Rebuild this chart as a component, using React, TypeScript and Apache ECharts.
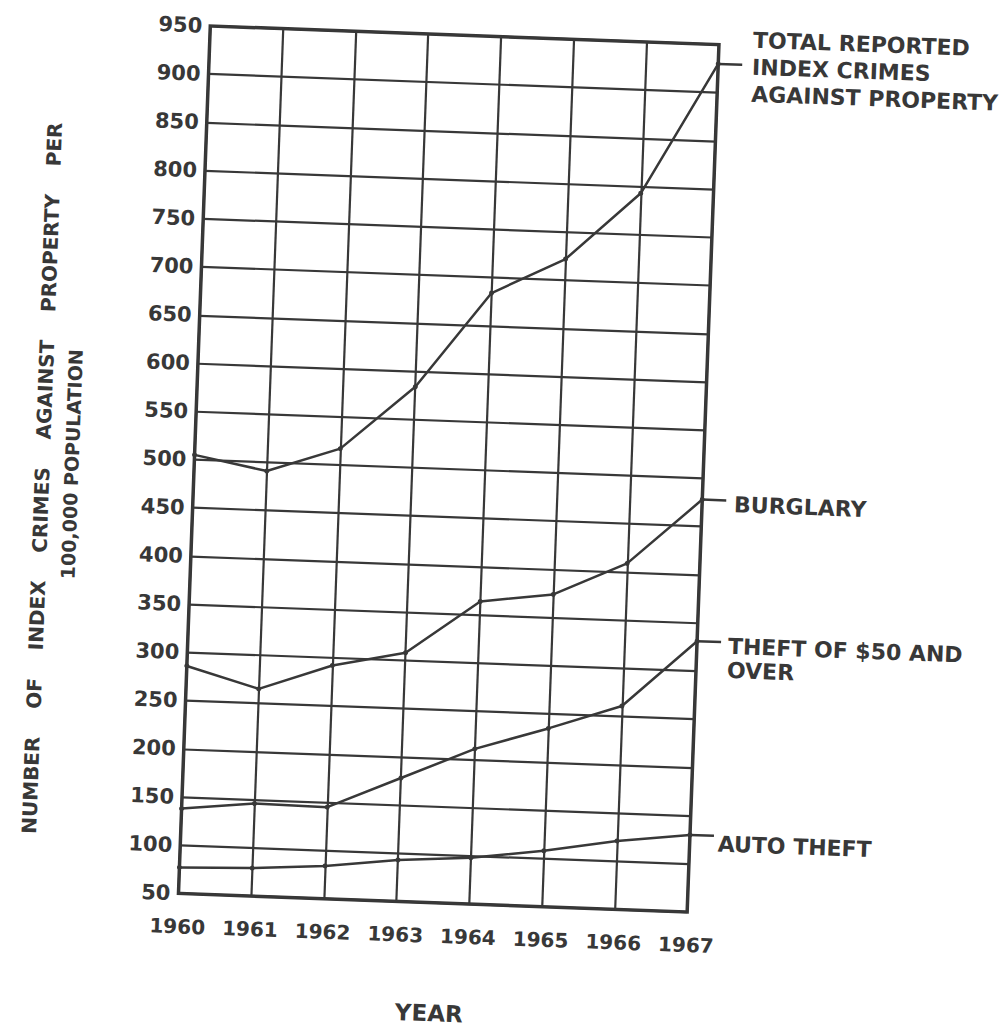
import React, { useEffect, useRef } from 'react';
import * as echarts from 'echarts';

// ---- data ----
const years = ['1960', '1961', '1962', '1963', '1964', '1965', '1966', '1967'];
const totalProperty = [505, 491, 517, 584, 684, 722, 793, 930];
const burglary = [286, 265, 292, 308, 364, 374, 409, 478];
const theftOver50 = [138, 146, 145, 178, 211, 235, 261, 331];
const autoTheft = [77, 79, 84, 93, 98, 108, 121, 130];

const totalLabel = ['TOTAL REPORTED', 'INDEX CRIMES', 'AGAINST PROPERTY'];
const burglaryLabel = ['BURGLARY'];
const theftLabel = ['THEFT OF $50 AND', 'OVER'];
const autoLabel = ['AUTO THEFT'];

const yTitle1 = 'NUMBER    OF    INDEX    CRIMES    AGAINST    PROPERTY    PER';
const yTitle2 = '100,000 POPULATION';
const xTitle = 'YEAR';

const FONT = '"DejaVu Sans", Verdana, sans-serif';
const INK = '#383838';

function makeSeries(name: string, data: number[], label: string[], dx: number, dy: number, lh: number) {
  return {
    type: 'line',
    name,
    data,
    symbol: 'circle',
    symbolSize: 5,
    lineStyle: { color: INK, width: 2.5 },
    itemStyle: { color: INK },
    z: 5,
    endLabel: {
      show: true,
      formatter: label.join('\n'),
      color: INK,
      fontFamily: FONT,
      fontWeight: 'bold',
      fontSize: 22,
      lineHeight: lh,
      align: 'left',
      verticalAlign: 'middle',
      distance: 0,
      offset: [dx, dy],
    },
    markPoint: {
      symbol: 'rect',
      symbolSize: [24, 2.5],
      symbolOffset: [12, 0],
      itemStyle: { color: INK },
      label: { show: false },
      data: [{ coord: [years[years.length - 1], data[data.length - 1]] }],
    },
  };
}

export default function App() {
  const ref = useRef<HTMLDivElement>(null);
  useEffect(() => {
    const chart = echarts.init(ref.current!, null, { renderer: 'svg', width: 1003, height: 1030 });
    chart.setOption({
      animation: false,
      backgroundColor: '#ffffff',
      grid: {
        left: 194,
        top: 35,
        right: 300,
        bottom: 115,
        show: true,
        borderColor: INK,
        borderWidth: 3.5,
        backgroundColor: 'transparent',
      },
      xAxis: {
        type: 'category',
        data: years,
        boundaryGap: false,
        axisLine: { show: false },
        axisTick: { show: false },
        axisLabel: { color: INK, fontFamily: FONT, fontWeight: 'bold', fontSize: 20, margin: 23 },
        splitLine: { show: true, lineStyle: { color: INK, width: 2.2 } },
        name: xTitle,
        nameLocation: 'middle',
        nameGap: 99,
        nameTextStyle: { color: INK, fontFamily: FONT, fontWeight: 'bold', fontSize: 23 },
      },
      yAxis: {
        type: 'value',
        min: 50,
        max: 950,
        interval: 50,
        axisLine: { show: false },
        axisTick: { show: false },
        axisLabel: { color: INK, fontFamily: FONT, fontWeight: 'bold', fontSize: 21, margin: 8 },
        splitLine: { show: true, lineStyle: { color: INK, width: 2.2 } },
        name: '{a|' + yTitle1 + '}{e|}\n{c|' + yTitle2 + '}{f|}',
        nameLocation: 'middle',
        nameGap: 108,
        nameRotate: 90,
        nameTextStyle: {
          color: INK,
          fontFamily: FONT,
          fontWeight: 'bold',
          fontSize: 20,
          lineHeight: 29,
          rich: {
            a: { color: INK, fontFamily: FONT, fontWeight: 'bold', fontSize: 20, lineHeight: 29 },
            c: { color: INK, fontFamily: FONT, fontWeight: 'bold', fontSize: 19, lineHeight: 29 },
            e: { width: 48, height: 2, lineHeight: 29 },
            f: { width: 18, height: 2, lineHeight: 29 },
          },
        },
      },
      series: [
        makeSeries('Total reported index crimes against property', totalProperty, totalLabel, 34, 2, 27),
        makeSeries('Burglary', burglary, burglaryLabel, 32, 4, 27),
        makeSeries('Theft of $50 and over', theftOver50, theftLabel, 31, 16, 24),
        makeSeries('Auto theft', autoTheft, autoLabel, 28, 8, 27),
      ],
    });
    return () => chart.dispose();
  }, []);
  return (
    <div style={{ position: 'absolute', left: 0, top: 0, width: 1003, height: 1030, overflow: 'hidden', background: '#fff' }}>
      <div
        ref={ref}
        style={{ width: 1003, height: 1030, transform: 'rotate(2.1deg)', transformOrigin: '448px 475px' }}
      />
    </div>
  );
}
